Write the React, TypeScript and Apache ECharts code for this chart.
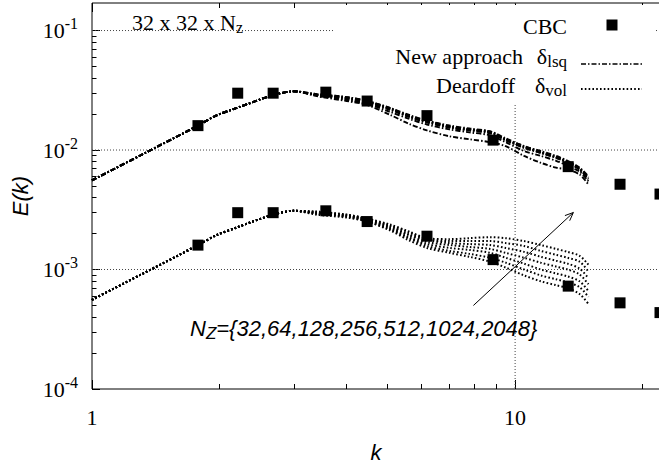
import React, { useEffect, useRef } from 'react';
import * as echarts from 'echarts';

const SERIF = "'Liberation Serif', 'Times New Roman', serif";
const SANS = "'Liberation Sans', Arial, sans-serif";

// wavenumbers of the simulated spectra
const K_SIM = [1, 1.3, 1.78, 1.97, 2.2, 2.68, 3.0, 3.4, 4.0, 4.47, 5.06, 5.6, 6.19, 7.0, 7.8, 8.73, 9.5, 10.5, 11.5, 12.5, 13.3, 14.2, 14.9];

// New approach (delta_lsq) — common low-k part, then one tail per Nz (k >= 3.4)
const NEW_LOWK = [5.57e-3, 9.0e-3, 1.6e-2, 1.95e-2, 2.25e-2, 2.88e-2, 3.1e-2];
const NEW_32 = [0.02823, 0.0257, 0.02382, 0.01973, 0.01665, 0.01459, 0.01303, 0.01231, 0.01163, 0.01078, 0.00893, 0.00782, 0.00712, 0.00686, 0.00624, 0.00516];
const NEW_64 = [0.02877, 0.02618, 0.02428, 0.02088, 0.0183, 0.01634, 0.01487, 0.01405, 0.01327, 0.01163, 0.00981, 0.00893, 0.00813, 0.00739, 0.0066, 0.00547];
const NEW_128 = [0.02877, 0.02668, 0.02474, 0.02168, 0.019, 0.01697, 0.01544, 0.01459, 0.01378, 0.01208, 0.01038, 0.00945, 0.0086, 0.00782, 0.00686, 0.00568];
const NEW_256 = [0.02877, 0.02719, 0.02522, 0.02209, 0.019, 0.01729, 0.01544, 0.01459, 0.01405, 0.01208, 0.01058, 0.00945, 0.0086, 0.00782, 0.00686, 0.00578];
const NEW_512 = [0.02877, 0.02719, 0.02522, 0.02209, 0.01936, 0.01729, 0.01573, 0.01487, 0.01405, 0.01231, 0.01058, 0.00963, 0.00876, 0.00797, 0.00699, 0.00589];
const NEW_1024 = [0.02932, 0.02771, 0.0257, 0.02251, 0.01936, 0.01762, 0.01573, 0.01487, 0.01431, 0.01231, 0.01078, 0.00963, 0.00876, 0.00797, 0.00699, 0.00589];
const NEW_2048 = [0.02932, 0.02771, 0.0257, 0.02251, 0.01973, 0.01762, 0.01603, 0.01515, 0.01431, 0.01254, 0.01078, 0.00981, 0.00893, 0.00813, 0.00712, 0.00601];

// Deardoff (delta_vol)
const DEAR_LOWK = [5.57e-4, 9.0e-4, 1.6e-3, 1.94e-3, 2.25e-3, 2.88e-3, 3.1e-3];
const DEAR_32 = [2.877e-3, 2.719e-3, 2.522e-3, 2.127e-3, 1.762e-3, 1.515e-3, 1.378e-3, 1.278e-3, 1.163e-3, 1.038e-3, 8.93e-4, 7.97e-4, 7.39e-4, 6.99e-4, 6.24e-4, 5.16e-4];
const DEAR_64 = [2.932e-3, 2.771e-3, 2.522e-3, 2.168e-3, 1.83e-3, 1.573e-3, 1.431e-3, 1.352e-3, 1.254e-3, 1.141e-3, 1.0e-3, 8.93e-4, 8.28e-4, 7.82e-4, 7.12e-4, 5.89e-4];
const DEAR_128 = [2.932e-3, 2.771e-3, 2.57e-3, 2.209e-3, 1.865e-3, 1.634e-3, 1.515e-3, 1.459e-3, 1.378e-3, 1.254e-3, 1.12e-3, 1.0e-3, 9.27e-4, 8.76e-4, 7.97e-4, 6.6e-4];
const DEAR_256 = [2.989e-3, 2.823e-3, 2.618e-3, 2.251e-3, 1.936e-3, 1.697e-3, 1.603e-3, 1.544e-3, 1.487e-3, 1.378e-3, 1.254e-3, 1.141e-3, 1.058e-3, 1.0e-3, 9.1e-4, 7.53e-4];
const DEAR_512 = [2.989e-3, 2.823e-3, 2.618e-3, 2.294e-3, 1.973e-3, 1.762e-3, 1.665e-3, 1.634e-3, 1.603e-3, 1.515e-3, 1.405e-3, 1.278e-3, 1.185e-3, 1.12e-3, 1.019e-3, 8.44e-4];
const DEAR_1024 = [3.046e-3, 2.877e-3, 2.668e-3, 2.338e-3, 2.049e-3, 1.795e-3, 1.729e-3, 1.729e-3, 1.729e-3, 1.665e-3, 1.573e-3, 1.431e-3, 1.327e-3, 1.254e-3, 1.163e-3, 9.63e-4];
const DEAR_2048 = [3.046e-3, 2.877e-3, 2.668e-3, 2.382e-3, 2.088e-3, 1.83e-3, 1.795e-3, 1.83e-3, 1.865e-3, 1.83e-3, 1.729e-3, 1.603e-3, 1.487e-3, 1.405e-3, 1.303e-3, 1.099e-3];

const NZ = [32, 64, 128, 256, 512, 1024, 2048];
const NEW_TAILS = [NEW_32, NEW_64, NEW_128, NEW_256, NEW_512, NEW_1024, NEW_2048];
const DEAR_TAILS = [DEAR_32, DEAR_64, DEAR_128, DEAR_256, DEAR_512, DEAR_1024, DEAR_2048];

// CBC experiment (two copies, one decade apart)
const K_CBC = [1.78, 2.21, 2.68, 3.57, 4.47, 6.19, 8.87, 13.35, 17.7, 22.0];
const CBC_UPPER = [0.016, 0.0299, 0.0299, 0.0305, 0.0257, 0.0194, 0.0121, 0.00726, 0.00517, 0.00428];
const CBC_LOWER = [0.0016, 0.00299, 0.00299, 0.0031, 0.00252, 0.0019, 0.00121, 0.000726, 0.000526, 0.000436];

// arrow (k, E) from -> to
const ARROW = [7.97, 5.0e-4, 13.73, 3.0e-3];

// axes
const X_MIN = 1, X_MAX = 22, Y_MIN = 1e-4, Y_MAX = 0.17;
const X_LABELS = [1, 10];
const Y_LABELS = [1e-4, 1e-3, 1e-2, 1e-1];
const X_MAJOR_TICKS = [1, 10];
const X_MINOR_TICKS = [2, 3, 4, 5, 6, 7, 8, 9, 20];
const Y_MAJOR_TICKS = [1e-4, 1e-3, 1e-2, 1e-1];
const Y_MINOR_TICKS = [2e-4, 3e-4, 4e-4, 5e-4, 6e-4, 7e-4, 8e-4, 9e-4, 2e-3, 3e-3, 4e-3, 5e-3, 6e-3, 7e-3, 8e-3, 9e-3, 2e-2, 3e-2, 4e-2, 5e-2, 6e-2, 7e-2, 8e-2, 9e-2];
const X_GRID = [10];
const Y_GRID = [1e-3, 1e-2, 1e-1];

const DASHDOT = [5, 2, 1.5, 2];
const DOTS = [1.6, 2.2];

const AXIS_NAME_STYLE = { fontFamily: SANS, fontStyle: 'italic', fontSize: 22, color: '#000' };

function tickAxis(kind: 'x' | 'y', position: string, ticks: number[], len: number, extra: any = {}) {
  return {
    type: 'log', logBase: 10,
    min: kind === 'x' ? X_MIN : Y_MIN, max: kind === 'x' ? X_MAX : Y_MAX,
    position, offset: 0,
    axisLine: { show: false }, splitLine: { show: false },
    axisTick: { show: true, inside: true, length: len, customValues: ticks, lineStyle: { color: '#000', width: 1 } },
    axisLabel: { show: false },
    ...extra,
  };
}

function buildOption() {
  const series: any[] = [];

  // grid lines (dotted)
  series.push({
    type: 'custom', name: 'hgrid', z: 1, silent: true,
    data: Y_GRID.map((v) => [X_MIN, v]),
    renderItem: (params: any, api: any) => {
      const cs = params.coordSys;
      const y = api.coord([api.value(0), api.value(1)])[1];
      return { type: 'line', shape: { x1: cs.x, y1: y, x2: cs.x + cs.width, y2: y },
        style: { stroke: '#444', lineWidth: 1, lineDash: [1, 2] } };
    },
  });
  series.push({
    type: 'custom', name: 'vgrid', z: 1, silent: true,
    data: X_GRID.map((v) => [v, 1e-3]),
    renderItem: (params: any, api: any) => {
      const cs = params.coordSys;
      const x = api.coord([api.value(0), api.value(1)])[0];
      return { type: 'line', shape: { x1: x, y1: cs.y, x2: x, y2: cs.y + cs.height },
        style: { stroke: '#444', lineWidth: 1, lineDash: [1, 2] } };
    },
  });

  // simulated spectra
  NZ.forEach((nz, i) => {
    const vals = [...NEW_LOWK, ...NEW_TAILS[i]];
    series.push({
      type: 'line', name: `New approach Nz=${nz}`, z: 5, showSymbol: false, smooth: 0.3,
      data: K_SIM.map((k, j) => [k, vals[j]]),
      lineStyle: { color: '#000', width: 1.9, type: DASHDOT, cap: 'butt' },
    });
  });
  NZ.forEach((nz, i) => {
    const vals = [...DEAR_LOWK, ...DEAR_TAILS[i]];
    series.push({
      type: 'line', name: `Deardoff Nz=${nz}`, z: 5, showSymbol: false, smooth: 0.3,
      data: K_SIM.map((k, j) => [k, vals[j]]),
      lineStyle: { color: '#000', width: 2, type: DOTS, cap: 'butt' },
    });
  });

  // CBC
  [CBC_UPPER, CBC_LOWER].forEach((arr) => {
    series.push({
      type: 'scatter', name: 'CBC', z: 6, clip: false, symbol: 'rect', symbolSize: 11,
      itemStyle: { color: '#000', opacity: 1 },
      data: K_CBC.map((k, j) => [k, arr[j]]),
    });
  });

  // arrow
  series.push({
    type: 'custom', name: 'arrow', z: 7, silent: true,
    data: [ARROW],
    encode: { x: [0, 2], y: [1, 3] },
    renderItem: (params: any, api: any) => {
      const p1 = api.coord([api.value(0), api.value(1)]);
      const p2 = api.coord([api.value(2), api.value(3)]);
      const ang = Math.atan2(p2[1] - p1[1], p2[0] - p1[0]);
      const L = 9, A = 0.4;
      const h1 = [p2[0] - L * Math.cos(ang - A), p2[1] - L * Math.sin(ang - A)];
      const h2 = [p2[0] - L * Math.cos(ang + A), p2[1] - L * Math.sin(ang + A)];
      return { type: 'group', children: [
        { type: 'line', shape: { x1: p1[0], y1: p1[1], x2: p2[0], y2: p2[1] }, style: { stroke: '#000', lineWidth: 1 } },
        { type: 'polyline', shape: { points: [h1, p2, h2] }, style: { stroke: '#000', lineWidth: 1, fill: 'none' } },
      ] };
    },
  });

  const textBase = { fill: '#000', fontFamily: SERIF, fontSize: 22 };

  return {
    animation: false,
    backgroundColor: '#fff',
    grid: { left: 92, top: 3, width: 568, height: 394, show: true, borderColor: '#000', borderWidth: 1, backgroundColor: 'transparent' },
    xAxis: [
      tickAxis('x', 'bottom', X_MINOR_TICKS, 5, {
        name: 'k', nameLocation: 'middle', nameGap: 52, nameTextStyle: AXIS_NAME_STYLE,
        axisLabel: {
          show: true, customValues: X_LABELS, margin: 17, color: '#000', fontFamily: SERIF, fontSize: 22,
          formatter: (v: number) => String(Math.round(v)),
        },
      }),
      tickAxis('x', 'top', X_MINOR_TICKS, 5),
      tickAxis('x', 'bottom', X_MAJOR_TICKS, 9),
      tickAxis('x', 'top', X_MAJOR_TICKS, 9),
    ],
    yAxis: [
      tickAxis('y', 'left', Y_MINOR_TICKS, 4.5, {
        name: 'E(k)', nameLocation: 'middle', nameGap: 57, nameTextStyle: AXIS_NAME_STYLE,
        axisLabel: {
          show: true, customValues: Y_LABELS, margin: 14, color: '#000',
          formatter: (v: number) => `{b|10}{s|${Math.round(Math.log10(v))}}`,
          rich: {
            b: { fontFamily: SERIF, fontSize: 22, color: '#000' },
            s: { fontFamily: SERIF, fontSize: 16, color: '#000', padding: [0, 0, 14, 0] },
          },
        },
      }),
      tickAxis('y', 'left', Y_MAJOR_TICKS, 8),
    ],
    series,
    graphic: [
      { type: 'rect', z: 3, silent: true, shape: { x: 334, y: 5, width: 320, height: 99 }, style: { fill: '#fff' } },
      { type: 'text', z: 10, x: 567, y: 26, style: { ...textBase, text: 'CBC', align: 'right', verticalAlign: 'middle' } },
      { type: 'rect', z: 10, shape: { x: 606.5, y: 19.5, width: 11, height: 11 }, style: { fill: '#000' } },
      { type: 'text', z: 10, x: 523, y: 56.5, style: { ...textBase, text: 'New approach', align: 'right', verticalAlign: 'middle' } },
      { type: 'text', z: 10, x: 567, y: 56.5, style: { ...textBase, text: 'δ{s|lsq}', align: 'right', verticalAlign: 'middle',
        rich: { s: { fontFamily: SERIF, fontSize: 17, color: '#000', padding: [10, 0, 0, 0] } } } },
      { type: 'line', z: 10, shape: { x1: 581, y1: 64, x2: 642, y2: 64 }, style: { stroke: '#000', lineWidth: 1.7, lineDash: DASHDOT } },
      { type: 'text', z: 10, x: 515, y: 85, style: { ...textBase, text: 'Deardoff', align: 'right', verticalAlign: 'middle' } },
      { type: 'text', z: 10, x: 567, y: 85, style: { ...textBase, text: 'δ{s|vol}', align: 'right', verticalAlign: 'middle',
        rich: { s: { fontFamily: SERIF, fontSize: 17, color: '#000', padding: [10, 0, 0, 0] } } } },
      { type: 'line', z: 10, shape: { x1: 581, y1: 89, x2: 642, y2: 89 }, style: { stroke: '#000', lineWidth: 1.8, lineDash: DOTS } },
      { type: 'text', z: 10, x: 132, y: 22.5, style: { ...textBase, text: '32 x 32 x N{s|z}', align: 'left', verticalAlign: 'middle',
        rich: { s: { fontFamily: SERIF, fontSize: 16, color: '#000', padding: [9, 0, 0, 0] } } } },
      { type: 'text', z: 10, x: 190, y: 328, style: { fill: '#000', fontFamily: SANS, fontStyle: 'italic', fontSize: 22,
        text: 'N{s|Z}={32,64,128,256,512,1024,2048}', align: 'left', verticalAlign: 'middle',
        rich: { s: { fontFamily: SANS, fontStyle: 'italic', fontSize: 17, color: '#000', padding: [10, 0, 0, 0] } } } },
    ],
  };
}

export default function App() {
  const ref = useRef<HTMLDivElement>(null);
  useEffect(() => {
    if (!ref.current) return;
    const chart = echarts.init(ref.current, null, { renderer: 'svg' });
    chart.setOption(buildOption() as any);
    return () => chart.dispose();
  }, []);
  return (
    <div style={{ position: 'fixed', left: 0, top: 0, width: 659, height: 468, overflow: 'hidden', background: '#fff' }}>
      <div ref={ref} style={{ width: 700, height: 468 }} />
    </div>
  );
}
